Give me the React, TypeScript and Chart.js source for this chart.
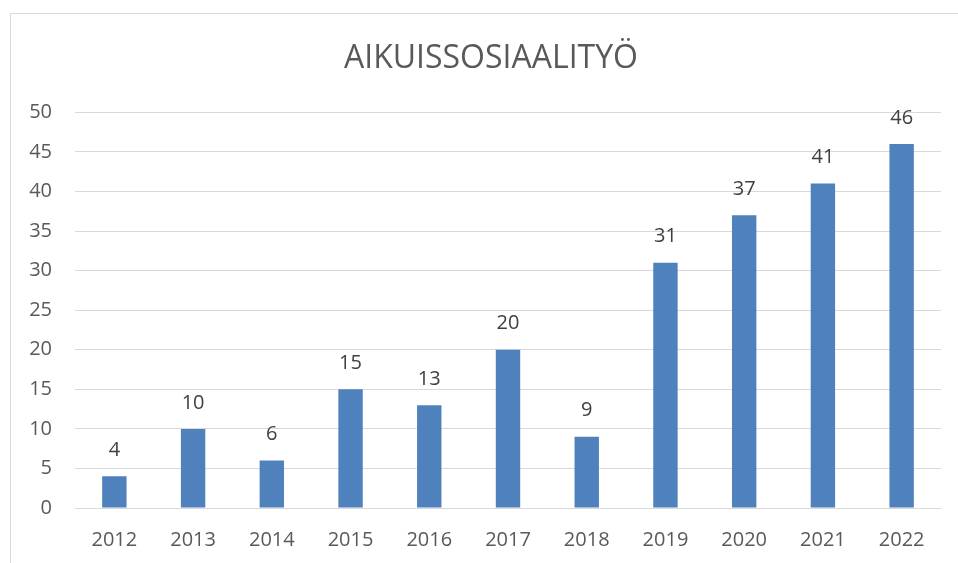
import React, { useEffect, useRef } from "react";
import { Chart, registerables } from "chart.js";

Chart.register(...registerables);

const TITLE = "AIKUISSOSIAALITYÖ";
const categories = ["2012", "2013", "2014", "2015", "2016", "2017", "2018", "2019", "2020", "2021", "2022"];
const values = [4, 10, 6, 15, 13, 20, 9, 31, 37, 41, 46];
const yMax = 50;
const yStep = 5;

const FONT = "'Open Sans', 'Liberation Sans', sans-serif";

const dataLabelPlugin = {
  id: "dataLabels",
  afterDatasetsDraw(chart: any) {
    const ctx = chart.ctx;
    const meta = chart.getDatasetMeta(0);
    ctx.save();
    ctx.font = `20px ${FONT}`;
    ctx.fillStyle = "#404040";
    ctx.textAlign = "center";
    ctx.textBaseline = "middle";
    meta.data.forEach((bar: any, i: number) => {
      ctx.fillText(String(values[i]), bar.x, bar.y - 26);
    });
    ctx.restore();
  },
};

export default function App() {
  const ref = useRef<HTMLCanvasElement>(null);
  useEffect(() => {
    if (!ref.current) return;
    const chart = new Chart(ref.current, {
      type: "bar",
      data: {
        labels: categories,
        datasets: [
          {
            data: values,
            backgroundColor: "#4F81BD",
            borderWidth: 0,
            barPercentage: 0.31,
            categoryPercentage: 1,
          },
        ],
      },
      options: {
        responsive: false,
        animation: false,
        devicePixelRatio: 1,
        layout: { padding: { left: 0, right: 0, top: 0, bottom: 0 } },
        plugins: {
          legend: { display: false },
          tooltip: { enabled: false },
          title: {
            display: true,
            text: TITLE,
            color: "#595959",
            font: { family: FONT, size: 32, weight: "normal" as any },
            padding: { top: 40, bottom: 34 },
          },
        },
        scales: {
          x: {
            grid: { display: false, drawTicks: false },
            border: { display: true, color: "#d9d9d9", width: 1 },
            ticks: { color: "#595959", font: { family: FONT, size: 20 }, padding: 20, maxRotation: 0 },
            afterFit: (s: any) => { s.height = 55; },
          },
          y: {
            min: 0,
            max: yMax,
            grid: { color: "#d9d9d9", lineWidth: 1, drawTicks: false },
            border: { display: false },
            ticks: { stepSize: yStep, color: "#595959", font: { family: FONT, size: 20 }, padding: 23 },
            afterFit: (s: any) => { s.width = 75; },
          },
          yRight: {
            type: "linear",
            position: "right",
            display: true,
            grid: { display: false, drawOnChartArea: false, drawTicks: false },
            border: { display: false },
            ticks: { display: false },
            afterFit: (s: any) => { s.width = 41; },
          },
        },
      },
      plugins: [dataLabelPlugin],
    });
    return () => chart.destroy();
  }, []);

  return (
    <div style={{ position: "fixed", left: 0, top: 0, width: 958, height: 563, overflow: "hidden", background: "#fff" }}>
      <div
        style={{
          position: "absolute",
          left: 10,
          top: 13,
          width: 980,
          height: 600,
          border: "1px solid #d9d9d9",
          boxSizing: "border-box",
        }}
      />
      <canvas ref={ref} width={982} height={563} style={{ position: "absolute", left: 0, top: 0, width: 982, height: 563 }} />
    </div>
  );
}
